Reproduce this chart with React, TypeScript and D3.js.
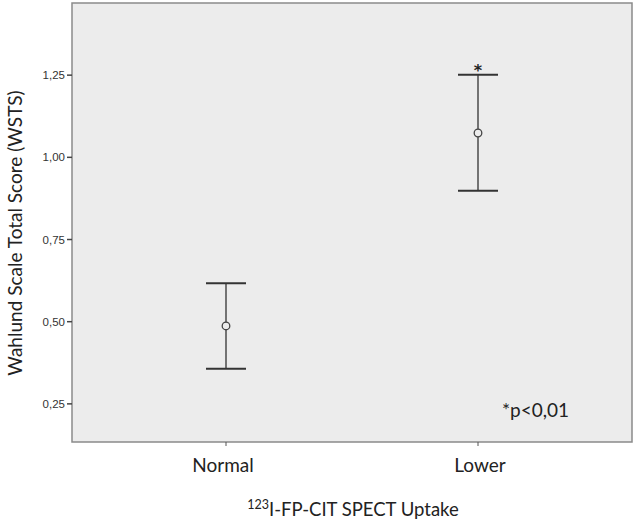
import React from "react";
import * as d3 from "d3";

const categories = ["Normal", "Lower"];
const means = [0.487, 1.074];
const lowers = [0.357, 0.898];
const uppers = [0.617, 1.251];
const yTicks = [0.25, 0.5, 0.75, 1.0, 1.25];

const W = 638, H = 525;
const L = 72, R = 632, T = 3, B = 442;

export default function App() {
  const y = d3.scaleLinear().domain([0.134, 1.4695]).range([B, T]);
  const x = d3.scalePoint<string>().domain(categories).range([226, 478]);
  const fmt = (v: number) => d3.format(".2f")(v).replace(".", ",");
  const capW = 20;
  const font = "Lato, 'Open Sans', sans-serif";
  return (
    <svg width={W} height={H} style={{ position: "absolute", left: 0, top: 0, background: "#fff" }}>
      <rect x={L} y={T} width={R - L} height={B - T} fill="#ececec" stroke="#8a8a8a" strokeWidth={1.5} />
      {yTicks.map((t) => (
        <g key={t}>
          <line x1={L - 5} x2={L} y1={y(t)} y2={y(t)} stroke="#444" strokeWidth={1.5} />
          <text x={L - 7} y={y(t)} dy="0.35em" textAnchor="end" fontSize={11.5} fontFamily="'Liberation Sans', Arial, sans-serif" fill="#333">{fmt(t)}</text>
        </g>
      ))}
      {categories.map((c, i) => {
        const cx = x(c)!;
        return (
          <g key={c}>
            <line x1={cx} x2={cx} y1={B} y2={B + 4} stroke="#555" strokeWidth={1} />
            <text x={cx - (i === 0 ? 3 : -2)} y={472} textAnchor="middle" fontSize={19} fontFamily={font} fill="#222">{c}</text>
            <line x1={cx} x2={cx} y1={y(uppers[i])} y2={y(lowers[i])} stroke="#555" strokeWidth={1.6} />
            <line x1={cx - capW} x2={cx + capW} y1={y(uppers[i])} y2={y(uppers[i])} stroke="#333" strokeWidth={2} />
            <line x1={cx - capW} x2={cx + capW} y1={y(lowers[i])} y2={y(lowers[i])} stroke="#333" strokeWidth={2} />
            <circle cx={cx} cy={y(means[i])} r={3.8} fill="#ececec" stroke="#444" strokeWidth={1.3} />
          </g>
        );
      })}
      <text x={x("Lower")!} y={y(uppers[1]) + 1} textAnchor="middle" fontSize={16} fontWeight="bold" fontFamily="'DejaVu Sans', sans-serif" fill="#222">*</text>
      <text x={502} y={417} fontSize={19} fontFamily={font} fill="#222">*p&lt;0,01</text>
      <text transform={`translate(22,233) rotate(-90)`} textAnchor="middle" fontSize={19} fontFamily={font} fill="#222">Wahlund Scale Total Score (WSTS)</text>
      <text x={353} y={516} textAnchor="middle" fontSize={18.5} fontFamily={font} fill="#222">
        <tspan fontSize={12.5} dy={-7}>123</tspan>
        <tspan dy={7}>I-FP-CIT SPECT Uptake</tspan>
      </text>
    </svg>
  );
}
